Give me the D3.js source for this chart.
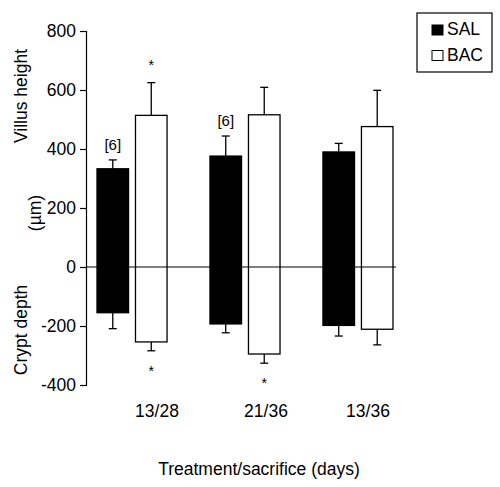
<!DOCTYPE html>
<html><head><meta charset="utf-8">
<script src="https://cdn.jsdelivr.net/npm/d3@7"></script>
<style>body{margin:0;background:#fff}svg{display:block}text{font-family:"Liberation Sans",Arial,sans-serif;fill:#000}</style>
</head><body><svg id="c" width="500" height="487"></svg>
<script>
const categories = ["13/28", "21/36", "13/36"];
const series = ["SAL", "BAC"];
const villusSAL = [333, 376, 390];
const villusSALsd = [30, 68, 29];
const cryptSAL = [-155, -193, -198];
const cryptSALsd = [54, 30, 36];
const villusBAC = [514, 516, 476];
const villusBACsd = [111, 93, 123];
const cryptBAC = [-254, -295, -211];
const cryptBACsd = [30, 31, 53];
const yTicks = [-400, -200, 0, 200, 400, 600, 800];
const nLabels = ["[6]", "[6]", ""];
const starsTop = ["", "*", "", "", "", ""]; // order: SAL1,BAC1,SAL2,BAC2,SAL3,BAC3
const starsBottom = ["", "*", "", "*", "", ""];

const svg = d3.select("#c");
const y = d3.scaleLinear().domain([-400, 800]).range([385, 31]);
const x = d3.scaleBand().domain(categories).range([97, 97 + 3 * 113 - 43]).paddingInner(0.38).paddingOuter(0);
const xs = d3.scaleBand().domain(series).range([0, x.bandwidth()]).paddingInner(0.18);
const fills = {SAL: "#000", BAC: "#fff"};
const FS = "17.5px";

const rows = [];
categories.forEach((c, i) => {
  rows.push({c, s: "SAL", v: villusSAL[i], vsd: villusSALsd[i], cr: cryptSAL[i], csd: cryptSALsd[i], idx: i*2});
  rows.push({c, s: "BAC", v: villusBAC[i], vsd: villusBACsd[i], cr: cryptBAC[i], csd: cryptBACsd[i], idx: i*2+1});
});

// axis
const ax = svg.append("g").attr("transform", "translate(86,0)")
  .call(d3.axisLeft(y).tickValues(yTicks).tickSize(6).tickPadding(4).tickFormat(d => String(d)));
ax.select(".domain").attr("stroke", "#000").attr("stroke-width", 1.2);
ax.selectAll(".tick line").attr("stroke", "#000").attr("stroke-width", 1.2);
ax.selectAll(".tick text").style("font-size", FS).attr("font-family", "Liberation Sans, Arial, sans-serif");

// error bars
const g = svg.append("g");
rows.forEach(r => {
  const cx = x(r.c) + xs(r.s) + xs.bandwidth() / 2;
  [[r.v, r.v + r.vsd], [r.cr, r.cr - r.csd]].forEach(([a, b]) => {
    g.append("line").attr("x1", cx).attr("x2", cx).attr("y1", y(a)).attr("y2", y(b)).attr("stroke", "#000").attr("stroke-width", 1.3);
    g.append("line").attr("x1", cx - 4).attr("x2", cx + 4).attr("y1", y(b)).attr("y2", y(b)).attr("stroke", "#000").attr("stroke-width", 1.3);
  });
});
// bars
g.selectAll("rect.bar").data(rows).join("rect").attr("class", "bar")
  .attr("x", d => x(d.c) + xs(d.s))
  .attr("width", xs.bandwidth())
  .attr("y", d => y(d.v))
  .attr("height", d => y(d.cr) - y(d.v))
  .attr("fill", d => fills[d.s]).attr("stroke", "#000").attr("stroke-width", 1.3);

// zero line
svg.append("line").attr("x1", 86).attr("x2", 396).attr("y1", y(0)).attr("y2", y(0)).attr("stroke", "#000").attr("stroke-width", 1.2);

// n labels
categories.forEach((c, i) => {
  if (!nLabels[i]) return;
  const cx = x(c) + xs("SAL") + xs.bandwidth() / 2;
  svg.append("text").attr("x", cx).attr("y", y(villusSAL[i] + villusSALsd[i]) - 10).attr("text-anchor", "middle").style("font-size", "15px").text(nLabels[i]);
});
// stars
rows.forEach(r => {
  const cx = x(r.c) + xs(r.s) + xs.bandwidth() / 2;
  if (starsTop[r.idx]) svg.append("text").attr("x", cx).attr("y", y(r.v + r.vsd) - 13).attr("text-anchor", "middle").style("font-size", "14px").text("*");
  if (starsBottom[r.idx]) svg.append("text").attr("x", cx).attr("y", y(r.cr - r.csd) + 25).attr("text-anchor", "middle").style("font-size", "14px").text("*");
});

// x labels
const xOff = [25, 21, 10];
categories.forEach((c, i) => {
  svg.append("text").attr("x", x(c) + x.bandwidth() / 2 + xOff[i]).attr("y", 417).attr("text-anchor", "middle").style("font-size", FS).text(c);
});
svg.append("text").attr("x", 259).attr("y", 475).attr("text-anchor", "middle").style("font-size", FS).text("Treatment/sacrifice (days)");

// y labels
const yl = [["Villus height", 21, 96], ["(µm)", 35, 213], ["Crypt depth", 21, 330]];
yl.forEach(([t, tx, ty]) => {
  svg.append("text").attr("transform", `translate(${tx + 6},${ty}) rotate(-90)`).attr("text-anchor", "middle").style("font-size", FS).text(t);
});

// legend
const lg = svg.append("g");
lg.append("rect").attr("x", 417).attr("y", 13).attr("width", 75).attr("height", 59).attr("fill", "#fff").attr("stroke", "#000").attr("stroke-width", 1.2);
series.forEach((s, i) => {
  lg.append("rect").attr("x", 432).attr("y", 25 + i * 25.5).attr("width", 11).attr("height", 10).attr("fill", fills[s]).attr("stroke", "#000").attr("stroke-width", 1);
  lg.append("text").attr("x", 447).attr("y", 35 + i * 26).style("font-size", FS).text(s);
});
</script></body></html>
